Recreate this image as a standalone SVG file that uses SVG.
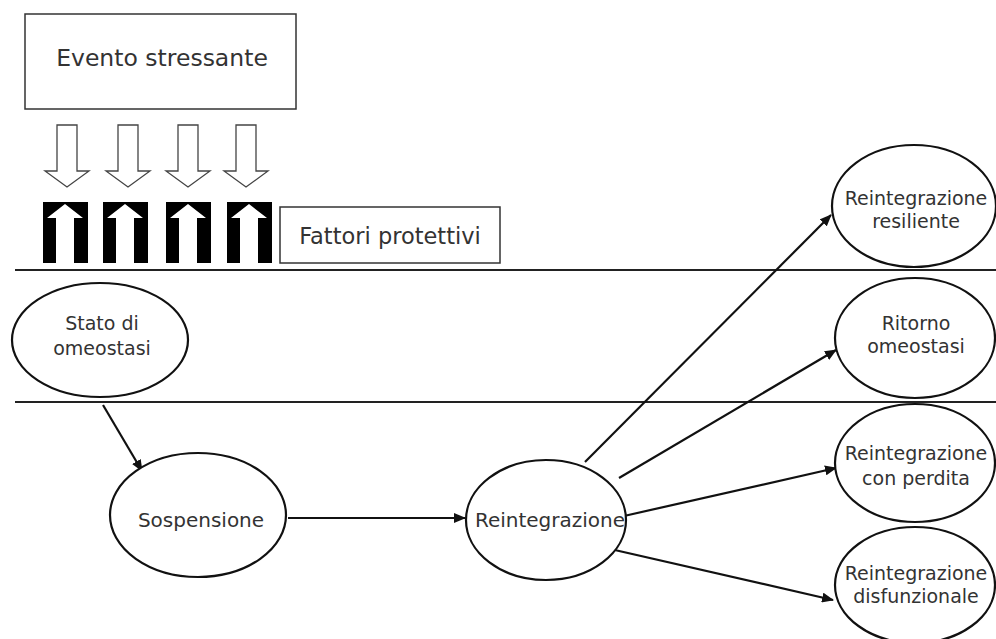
<svg xmlns="http://www.w3.org/2000/svg" width="996" height="639" viewBox="0 0 996 639">
<style>
text{font-family:"DejaVu Sans","Liberation Sans",sans-serif;fill:#333;text-anchor:middle}
.el{fill:#fff;stroke:#111;stroke-width:2.2}
.box{fill:#fff;stroke:#333;stroke-width:1.5}
.hol{fill:#fff;stroke:#444;stroke-width:1.3}
.con{stroke:#111;stroke-width:2.2;fill:none;marker-end:url(#ah)}
.rule{stroke:#222;stroke-width:2.2}
.t{font-size:19px}
</style>
<defs>
<marker id="ah" markerWidth="12" markerHeight="10" refX="11" refY="5" orient="auto" markerUnits="userSpaceOnUse">
<path d="M0,0 L12,5 L0,10 Z" fill="#111"/>
</marker>
<path id="down" d="M-10,0 H10 V46 H22 L0,62 L-22,46 H-10 Z"/>
<g id="prot"><rect x="-22" y="0" width="45" height="61" fill="#000"/><path d="M-9,61 V16 H-18 L0,2 L18,16 H9 V61 Z" fill="#fff"/></g>
</defs>
<rect width="996" height="639" fill="#fff"/>
<g id="evento"><rect class="box" x="25" y="14" width="271" height="95"/><text x="162" y="66" font-size="23.5">Evento stressante</text></g>
<g id="stress-arrows">
<use href="#down" class="hol" x="67" y="125"/>
<use href="#down" class="hol" x="128" y="125"/>
<use href="#down" class="hol" x="188" y="125"/>
<use href="#down" class="hol" x="246" y="125"/>
</g>
<g id="protective-arrows">
<use href="#prot" x="65" y="202"/>
<use href="#prot" x="125" y="202"/>
<use href="#prot" x="188" y="202"/>
<use href="#prot" x="249" y="202"/>
</g>
<g id="fattori"><rect class="box" x="280" y="207" width="220" height="56"/><text x="390" y="244" font-size="22.5">Fattori protettivi</text></g>
<g id="lines"><line class="rule" x1="15" y1="270" x2="996" y2="270"/><line class="rule" x1="15" y1="402" x2="996" y2="402"/></g>
<g id="connectors">
<line class="con" x1="103" y1="405" x2="142" y2="471"/>
<line class="con" x1="288" y1="518" x2="465" y2="518"/>
<line class="con" x1="585" y1="462" x2="831" y2="215"/>
<line class="con" x1="619" y1="478" x2="836" y2="350"/>
<line class="con" x1="624" y1="516" x2="836" y2="468"/>
<line class="con" x1="606" y1="548" x2="833" y2="600"/>
</g>
<g id="stato"><ellipse class="el" cx="100" cy="340" rx="88" ry="57"/><text class="t" x="102" y="330">Stato di</text><text class="t" x="102" y="355">omeostasi</text></g>
<g id="sospensione"><ellipse class="el" cx="198" cy="515" rx="88" ry="62"/><text x="201" y="527" font-size="20">Sospensione</text></g>
<g id="reintegrazione"><ellipse class="el" cx="546" cy="520" rx="80" ry="60"/><text x="550" y="527" font-size="20">Reintegrazione</text></g>
<g id="resiliente"><ellipse class="el" cx="914" cy="206" rx="82" ry="61"/><text class="t" x="916" y="205">Reintegrazione</text><text class="t" x="916" y="228">resiliente</text></g>
<g id="ritorno"><ellipse class="el" cx="915" cy="338" rx="80" ry="60"/><text class="t" x="916" y="330">Ritorno</text><text class="t" x="916" y="353">omeostasi</text></g>
<g id="perdita"><ellipse class="el" cx="915" cy="463" rx="80" ry="59"/><text class="t" x="916" y="460">Reintegrazione</text><text class="t" x="916" y="485">con perdita</text></g>
<g id="disfunzionale"><ellipse class="el" cx="915" cy="585" rx="80" ry="58"/><text class="t" x="916" y="580">Reintegrazione</text><text class="t" x="916" y="603">disfunzionale</text></g>
</svg>
